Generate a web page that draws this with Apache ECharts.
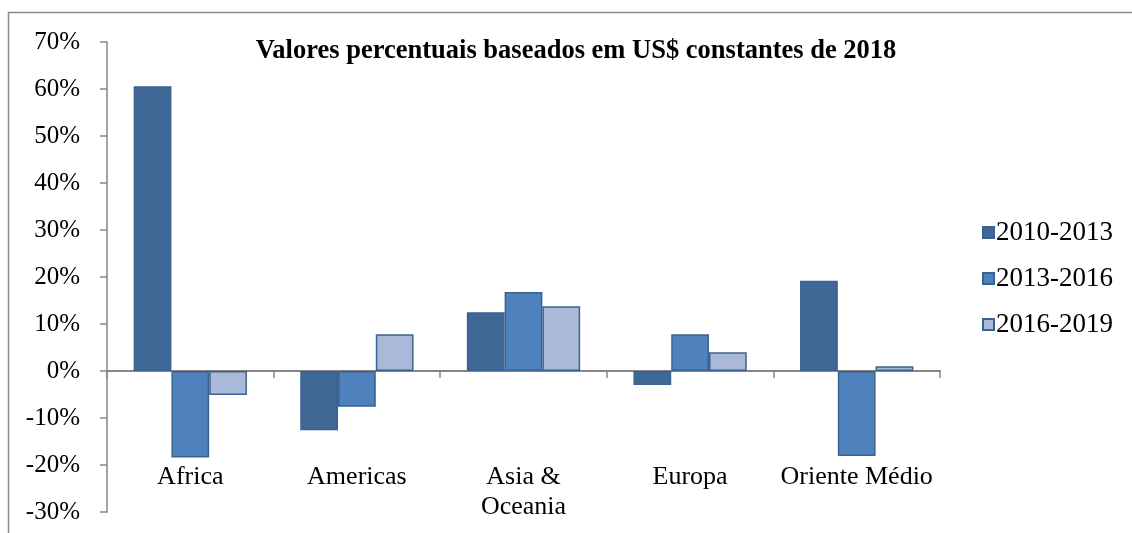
<!DOCTYPE html>
<html>
<head>
<meta charset="utf-8">
<script src="https://cdn.jsdelivr.net/npm/echarts@6/dist/echarts.min.js"></script>
<style>
  html, body { margin: 0; padding: 0; background: #ffffff; }
  #chart { width: 1132px; height: 533px; }
</style>
</head>
<body>
<div id="chart"></div>
<script>
// Regions and percentage change per period (constant 2018 US$)
const categories = ['Africa', 'Americas', 'Asia &\nOceania', 'Europa', 'Oriente Médio'];
const period2010_2013 = [60.6, -12.6, 12.5, -3.0, 19.2];
const period2013_2016 = [-18.4, -7.6, 16.8, 7.8, -18.1];
const period2016_2019 = [-5.1, 7.8, 13.8, 4.0, 1.0];
const seriesNames = ['2010-2013', '2013-2016', '2016-2019'];
const titleText = 'Valores percentuais baseados em US$ constantes de 2018';

const FONT = '"Liberation Serif", "Times New Roman", serif';
const AXIS_GRAY = '#868686';
const fills = ['#3F6897', '#4F81BD', '#AAB9D7'];
const edge = '#3A6290';

const chart = echarts.init(document.getElementById('chart'), null, { renderer: 'canvas' });

function barSeries(name, data, i) {
  return {
    name: name,
    type: 'bar',
    xAxisIndex: 0,
    data: data,
    barGap: '0%',
    barCategoryGap: '32%',
    itemStyle: { color: fills[i], borderColor: edge, borderWidth: 1.5 },
    emphasis: { disabled: true }
  };
}

chart.setOption({
  animation: false,
  backgroundColor: '#ffffff',
  textStyle: { fontFamily: FONT },
  title: {
    text: titleText,
    left: 576,
    textAlign: 'center',
    top: 38,
    padding: 0,
    textStyle: { fontFamily: FONT, fontWeight: 'bold', fontSize: 26.5, color: '#000000' }
  },
  legend: {
    orient: 'vertical',
    left: 982,
    top: 219,
    padding: 0,
    itemWidth: 11,
    itemHeight: 11,
    itemGap: 19,
    icon: 'rect',
    data: seriesNames,
    textStyle: { fontFamily: FONT, fontSize: 27, lineHeight: 27, color: '#000000', padding: [0, 0, 0, -3] }
  },
  graphic: [{
    type: 'rect',
    silent: true,
    shape: { x: 8.5, y: 12.5, width: 1300, height: 700 },
    style: { fill: 'none', stroke: '#8a8a8a', lineWidth: 1.5 }
  }],
  grid: { left: 107, right: 192, top: 42, bottom: 21, containLabel: false },
  xAxis: [{
    type: 'category',
    data: categories,
    axisLine: { onZero: true, lineStyle: { color: AXIS_GRAY, width: 2 } },
    axisTick: { show: true, length: 7, lineStyle: { color: AXIS_GRAY, width: 1.5 } },
    axisLabel: { show: false },
    splitLine: { show: false }
  }, {
    type: 'category',
    data: categories,
    position: 'bottom',
    offset: -58,
    axisLine: { show: false },
    axisTick: { show: false },
    axisLabel: {
      show: true,
      margin: 8,
      interval: 0,
      fontFamily: FONT,
      fontSize: 26,
      lineHeight: 30,
      color: '#000000'
    }
  }],
  yAxis: {
    type: 'value',
    min: -30,
    max: 70,
    interval: 10,
    axisLine: { show: true, lineStyle: { color: AXIS_GRAY, width: 1.5 } },
    axisTick: { show: true, length: 7, lineStyle: { color: AXIS_GRAY, width: 1.5 } },
    splitLine: { show: false },
    axisLabel: {
      margin: 27,
      fontFamily: FONT,
      fontSize: 25,
      color: '#000000',
      formatter: function (v) { return v + '%'; }
    }
  },
  series: [
    barSeries(seriesNames[0], period2010_2013, 0),
    barSeries(seriesNames[1], period2013_2016, 1),
    barSeries(seriesNames[2], period2016_2019, 2)
  ]
});
</script>
</body>
</html>
